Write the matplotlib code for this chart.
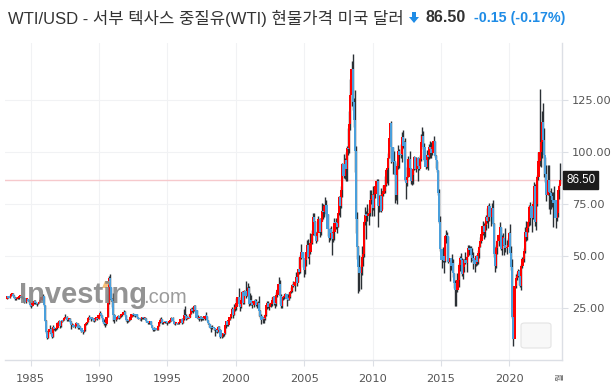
import matplotlib
matplotlib.use("Agg")
import matplotlib.pyplot as plt
import numpy as np
from matplotlib.patches import FancyBboxPatch, Polygon

# monthly WTI candles, first month = Apr 1983
start_year = 1983
start_month = 4

close = [
    30.6, 30.0, 31.0, 31.7, 31.9, 30.9, 30.0, 29.4, 29.6,
    29.7, 30.6, 30.8, 30.5, 30.2, 29.6, 27.9, 29.3, 29.3, 28.6, 27.9, 26.4,
    25.9, 27.3, 28.3, 27.5, 27.4, 26.9, 27.3, 28.0, 29.1, 30.4, 30.6, 26.3,
    18.8, 13.3, 10.4, 13.3, 15.1, 12.8, 11.2, 15.9, 14.8, 14.9, 15.2, 17.9,
    18.7, 16.2, 18.8, 18.7, 19.4, 20.3, 20.7, 19.2, 19.5, 19.9, 18.1, 16.7,
    16.9, 16.0, 16.4, 17.6, 17.5, 15.2, 16.2, 15.2, 14.0, 13.7, 14.2, 17.2,
    18.0, 18.1, 20.4, 20.7, 19.6, 20.1, 19.2, 19.0, 20.2, 20.4, 19.9, 21.8,
    22.7, 21.5, 20.3, 18.2, 17.4, 17.1, 20.7, 27.2, 39.5, 35.2, 29.5, 28.4,
    21.5, 19.2, 19.6, 20.8, 21.2, 20.2, 21.4, 21.7, 22.2, 23.3, 21.5, 19.1,
    18.9, 18.7, 19.4, 20.9, 22.1, 21.6, 21.9, 21.4, 21.9, 20.6, 19.9, 19.5,
    20.3, 20.4, 20.3, 20.3, 19.9, 18.6, 17.7, 18.2, 18.7, 16.9, 15.4, 14.2,
    15.2, 14.5, 14.6, 16.5, 18.1, 19.1, 19.7, 17.6, 18.4, 18.2, 18.1, 17.8,
    18.4, 18.5, 19.2, 20.4, 18.9, 17.4, 17.6, 17.8, 17.5, 17.6, 18.2, 19.6,
    17.7, 19.5, 21.5, 21.2, 19.8, 20.9, 20.4, 22.3, 24.4, 23.4, 23.8, 25.9,
    24.2, 20.3, 20.4, 19.8, 20.9, 19.8, 20.2, 19.6, 21.2, 21.1, 19.1, 17.6,
    17.2, 15.4, 15.6, 15.4, 15.2, 14.2, 14.2, 13.4, 16.1, 14.4, 11.2, 12.1,
    12.8, 12.3, 16.8, 18.7, 16.8, 19.3, 20.5, 22.1, 24.5, 21.8, 24.6, 25.6,
    27.6, 30.4, 26.9, 25.7, 29.0, 32.5, 27.4, 33.1, 30.8, 32.7, 34.4, 26.8,
    28.7, 27.4, 26.3, 28.5, 28.4, 26.3, 26.4, 27.2, 23.4, 21.2, 19.4, 19.8,
    19.5, 21.7, 26.3, 27.3, 25.3, 26.9, 27.0, 28.9, 30.5, 27.2, 26.9, 31.2,
    33.5, 36.6, 31.0, 25.8, 29.6, 30.2, 30.5, 31.6, 29.2, 29.1, 30.4, 32.5,
    33.1, 36.2, 35.8, 37.4, 39.9, 37.1, 43.8, 42.1, 49.6, 51.8, 49.1, 43.5,
    48.2, 51.8, 55.4, 49.7, 52.0, 56.5, 60.6, 68.9, 66.2, 59.8, 57.3, 61.0,
    67.9, 61.4, 66.6, 71.9, 71.3, 73.9, 74.4, 70.3, 62.9, 58.7, 63.1, 61.1,
    58.1, 61.8, 65.9, 65.7, 64.0, 70.7, 78.2, 74.0, 81.7, 94.5, 88.7, 96.0,
    91.8, 101.8, 101.6, 113.5, 127.4, 140.0, 124.1, 115.5, 100.6, 67.8, 54.4, 44.6,
    41.7, 44.8, 49.7, 51.1, 66.3, 69.9, 69.5, 70.0, 70.6, 77.0, 77.3, 79.4,
    72.9, 79.7, 83.8, 86.2, 74.0, 75.6, 78.9, 71.9, 80.0, 81.4, 84.1, 91.4,
    92.2, 97.0, 106.7, 113.9, 102.7, 95.4, 95.7, 88.8, 79.2, 93.2, 100.4, 98.8,
    98.5, 107.1, 103.0, 104.9, 86.5, 85.0, 88.1, 96.5, 92.2, 86.2, 88.9, 91.8,
    97.5, 92.1, 97.2, 93.5, 92.0, 96.6, 105.0, 107.7, 102.3, 96.4, 92.7, 98.4,
    97.5, 102.6, 101.6, 99.7, 102.7, 105.4, 98.2, 96.0, 91.2, 80.5, 66.2, 53.3,
    48.2, 49.8, 47.6, 59.6, 60.3, 59.5, 47.1, 49.2, 45.1, 46.6, 41.7, 37.0,
    33.6, 33.8, 38.3, 45.9, 49.1, 48.3, 41.6, 44.7, 48.2, 46.9, 49.4, 53.7,
    52.8, 54.0, 50.6, 49.3, 48.3, 46.0, 50.2, 47.2, 51.7, 54.4, 57.4, 60.4,
    64.7, 61.6, 64.9, 68.6, 67.0, 74.2, 68.8, 69.8, 73.3, 65.3, 50.9, 45.4,
    53.8, 57.2, 60.1, 63.9, 53.5, 58.5, 58.6, 55.1, 54.1, 54.2, 55.2, 61.1,
    51.6, 44.8, 20.5, 10.0, 35.5, 39.3, 40.3, 42.6, 40.2, 35.8, 45.3, 48.5,
    52.2, 61.5, 59.2, 63.6, 66.3, 73.5, 74.0, 68.5, 75.0, 83.6, 66.2, 75.2,
    88.2, 95.7, 100.3, 104.7, 114.7, 105.8, 98.6, 89.6, 79.5, 86.5, 80.6, 80.3,
    78.9, 77.1, 75.7, 76.8, 68.1, 70.6, 81.8, 83.6, 86.5,
]

high = [
    31.0, 30.8, 31.4, 32.0, 32.4, 32.0, 31.1, 30.2, 30.1,
    30.4, 30.9, 31.3, 31.0, 30.7, 30.5, 29.7, 29.6, 29.8, 29.5, 28.9, 28.0,
    26.8, 27.5, 28.9, 28.8, 28.0, 27.6, 27.6, 28.3, 29.6, 30.8, 31.8, 31.0,
    26.5, 19.3, 14.0, 14.6, 16.8, 15.3, 13.5, 16.8, 16.0, 15.4, 15.6, 18.2,
    19.2, 18.7, 18.9, 19.0, 19.8, 20.5, 22.2, 21.0, 19.8, 20.3, 20.0, 18.7,
    17.7, 17.3, 16.7, 18.4, 17.9, 17.6, 16.8, 16.3, 15.4, 14.6, 14.6, 17.4,
    18.5, 18.5, 20.5, 21.8, 20.6, 20.6, 20.2, 19.5, 20.4, 20.9, 20.6, 22.1,
    23.8, 22.8, 21.6, 20.4, 19.5, 17.6, 20.9, 31.9, 40.4, 41.2, 35.1, 29.8,
    32.0, 22.0, 20.5, 21.3, 21.5, 21.3, 21.7, 22.1, 22.4, 24.0, 23.5, 21.5,
    19.6, 19.4, 19.6, 21.0, 22.2, 22.6, 22.2, 22.0, 22.3, 22.2, 20.8, 19.9,
    20.5, 20.9, 20.8, 20.7, 20.6, 20.0, 18.7, 18.5, 18.9, 18.9, 16.9, 15.5,
    15.8, 15.5, 14.9, 17.0, 18.3, 20.0, 20.7, 19.7, 18.5, 18.7, 18.7, 18.1,
    18.7, 18.9, 19.3, 20.5, 20.6, 19.0, 17.9, 18.4, 17.9, 17.7, 18.3, 19.7,
    20.0, 19.8, 24.4, 25.8, 21.9, 21.0, 22.0, 22.4, 25.0, 25.5, 24.5, 26.3,
    26.6, 24.1, 21.6, 20.6, 21.3, 21.0, 20.8, 20.4, 21.3, 23.0, 21.2, 19.2,
    17.9, 17.4, 16.5, 16.8, 15.6, 15.3, 15.0, 14.0, 16.5, 16.2, 14.7, 12.3,
    12.8, 13.0, 16.9, 18.8, 19.0, 19.4, 20.8, 22.3, 25.6, 24.1, 26.9, 26.8,
    30.0, 30.5, 34.4, 27.5, 30.3, 33.0, 32.2, 33.6, 37.8, 35.0, 36.9, 35.5,
    32.2, 31.5, 28.2, 28.7, 29.3, 29.5, 27.8, 28.3, 31.0, 23.9, 22.2, 20.9,
    21.6, 22.0, 26.5, 28.5, 28.5, 27.3, 28.1, 30.3, 30.9, 30.7, 28.6, 32.7,
    34.0, 39.9, 38.5, 31.6, 29.7, 30.9, 31.8, 32.4, 29.8, 31.7, 32.5, 33.0,
    35.3, 36.4, 38.2, 37.9, 42.3, 40.4, 43.8, 49.4, 50.5, 55.7, 51.8, 45.1,
    49.0, 51.8, 57.6, 58.3, 52.2, 60.9, 62.5, 70.9, 70.8, 67.0, 61.8, 61.9,
    69.2, 68.3, 67.0, 75.4, 74.9, 74.2, 78.4, 77.2, 70.4, 62.9, 63.3, 64.3,
    61.1, 62.3, 68.1, 68.1, 66.6, 70.7, 78.8, 78.8, 83.8, 94.7, 99.3, 97.0,
    100.1, 103.0, 111.8, 119.9, 135.1, 143.7, 147.3, 126.0, 130.0, 103.0, 71.0, 55.0,
    50.5, 45.8, 54.7, 53.9, 66.7, 73.4, 71.6, 75.0, 72.9, 82.0, 82.0, 80.0,
    83.9, 80.4, 83.8, 87.2, 87.2, 79.4, 79.4, 82.9, 80.1, 84.4, 88.6, 91.9,
    92.6, 99.8, 106.9, 114.0, 114.8, 102.6, 100.6, 95.9, 90.5, 94.6, 103.4, 101.6,
    103.7, 109.8, 110.6, 105.2, 106.6, 86.0, 92.9, 98.3, 100.4, 92.3, 90.3, 91.9,
    98.2, 97.8, 97.5, 97.8, 97.0, 98.4, 108.9, 112.2, 110.2, 104.3, 95.3, 100.8,
    98.7, 103.9, 105.2, 104.7, 104.5, 107.7, 105.4, 98.4, 95.9, 91.6, 82.1, 69.3,
    53.5, 54.2, 52.5, 59.9, 62.6, 61.8, 59.6, 49.3, 48.8, 50.9, 48.4, 42.0,
    38.4, 34.6, 41.9, 46.8, 49.8, 51.7, 49.0, 48.8, 48.4, 51.9, 49.9, 55.2,
    55.2, 54.9, 54.8, 53.8, 52.0, 48.3, 50.4, 50.2, 52.9, 55.2, 59.1, 60.5,
    66.7, 66.0, 66.6, 69.6, 72.9, 74.5, 75.3, 70.4, 75.3, 76.9, 65.7, 54.6,
    55.4, 57.8, 60.7, 66.6, 63.9, 60.0, 60.9, 57.5, 63.4, 57.9, 58.7, 61.8,
    65.6, 54.7, 48.7, 29.1, 35.7, 41.6, 42.5, 43.8, 43.4, 41.9, 46.3, 49.4,
    53.9, 63.8, 67.0, 65.5, 67.0, 74.5, 76.0, 73.6, 76.7, 85.4, 84.7, 77.0,
    88.8, 100.0, 130.5, 108.8, 119.9, 123.7, 111.5, 97.7, 93.7, 93.6, 93.7, 81.5,
    82.7, 80.6, 81.0, 83.5, 77.0, 72.7, 81.8, 84.9, 95.0,
]

low = [
    29.3, 29.6, 29.8, 30.7, 31.3, 30.6, 29.8, 29.1, 29.0,
    29.2, 29.5, 30.4, 30.2, 29.9, 29.3, 27.4, 27.6, 28.9, 28.2, 27.6, 26.0,
    25.0, 25.8, 27.0, 27.1, 26.8, 26.2, 26.7, 27.2, 27.9, 29.0, 29.9, 26.0,
    18.6, 13.0, 10.0, 10.4, 13.2, 12.0, 10.4, 11.3, 14.3, 14.0, 14.5, 15.0,
    17.8, 15.6, 16.1, 18.1, 18.6, 19.3, 20.1, 18.7, 18.9, 19.2, 18.0, 15.1,
    16.3, 15.9, 15.4, 16.4, 17.1, 14.9, 15.0, 14.8, 13.6, 12.6, 13.4, 14.1,
    17.0, 17.4, 18.2, 19.9, 19.0, 19.5, 19.0, 18.2, 19.0, 19.7, 19.4, 19.8,
    21.6, 21.2, 19.6, 17.9, 16.8, 16.1, 16.7, 20.7, 27.1, 29.3, 28.5, 25.7,
    19.0, 17.8, 18.9, 19.5, 20.4, 19.9, 20.1, 20.8, 21.3, 22.1, 21.2, 18.9,
    17.9, 18.4, 18.6, 19.3, 20.8, 21.4, 21.4, 20.9, 21.3, 20.4, 19.8, 19.1,
    18.9, 19.8, 19.8, 19.9, 19.6, 18.5, 17.3, 17.4, 17.5, 16.8, 15.2, 13.8,
    14.0, 14.4, 14.2, 14.5, 16.5, 17.6, 19.1, 17.4, 17.3, 17.6, 17.7, 16.7,
    17.6, 18.0, 18.1, 19.0, 18.7, 17.1, 17.0, 17.6, 17.1, 17.2, 17.4, 18.3,
    17.3, 17.6, 19.1, 20.5, 19.3, 19.8, 20.1, 20.6, 22.0, 22.9, 22.5, 23.6,
    24.0, 20.1, 19.6, 18.6, 19.8, 18.7, 19.1, 19.3, 19.3, 20.4, 18.9, 17.3,
    16.1, 15.3, 13.5, 15.1, 14.4, 11.4, 13.7, 12.9, 13.5, 14.1, 10.7, 10.4,
    11.3, 11.4, 12.4, 15.6, 16.2, 16.5, 19.1, 20.1, 22.1, 20.1, 21.7, 23.8,
    24.1, 27.4, 25.9, 23.7, 25.1, 28.0, 26.9, 27.0, 29.7, 30.6, 32.3, 25.9,
    26.4, 26.6, 25.0, 25.5, 27.1, 26.0, 24.9, 26.0, 21.2, 20.3, 17.5, 17.8,
    17.9, 19.2, 21.2, 24.6, 24.9, 24.2, 25.6, 25.9, 28.2, 26.5, 24.9, 26.0,
    30.5, 32.6, 26.9, 24.9, 25.1, 29.0, 29.5, 30.2, 25.8, 28.9, 29.0, 29.8,
    32.2, 32.5, 35.3, 33.2, 37.3, 35.5, 37.6, 41.6, 41.9, 48.5, 44.7, 40.0,
    41.3, 45.2, 51.8, 49.2, 46.2, 51.1, 56.0, 59.9, 62.6, 59.5, 56.2, 57.1,
    61.6, 59.3, 60.0, 66.7, 67.6, 68.6, 72.2, 69.8, 59.5, 56.6, 57.8, 60.0,
    50.5, 56.8, 57.9, 62.8, 61.1, 64.2, 69.9, 69.0, 73.2, 78.3, 87.6, 86.9,
    86.1, 86.1, 98.7, 99.6, 110.7, 122.0, 120.4, 112.0, 90.5, 61.3, 48.8, 32.4,
    33.2, 34.0, 40.7, 45.1, 49.6, 65.0, 58.3, 66.7, 65.1, 69.1, 75.2, 69.5,
    72.4, 69.5, 78.1, 80.6, 64.2, 71.2, 71.6, 71.2, 72.6, 79.0, 80.3, 83.8,
    85.1, 84.1, 97.2, 104.7, 94.6, 89.7, 94.0, 75.7, 77.1, 74.9, 91.9, 92.5,
    97.3, 95.4, 102.1, 101.4, 86.0, 77.3, 83.7, 87.8, 90.9, 84.6, 84.1, 84.6,
    91.4, 92.0, 90.5, 86.1, 91.3, 92.3, 95.7, 103.1, 101.5, 95.7, 91.8, 92.6,
    91.2, 96.9, 97.4, 97.4, 98.6, 101.0, 97.5, 92.5, 90.4, 79.4, 65.7, 52.4,
    44.2, 47.1, 42.0, 47.0, 56.5, 57.3, 46.7, 37.8, 43.2, 43.0, 39.9, 34.5,
    26.1, 26.1, 32.7, 35.2, 43.0, 45.8, 40.6, 39.2, 42.5, 46.3, 42.2, 49.9,
    50.7, 51.2, 47.1, 48.2, 43.8, 42.1, 45.4, 45.6, 46.0, 49.1, 54.4, 56.1,
    59.9, 58.1, 59.1, 62.3, 65.8, 63.6, 67.0, 64.4, 67.6, 65.3, 49.4, 42.4,
    44.4, 51.2, 55.0, 60.0, 53.0, 50.6, 55.2, 50.5, 52.1, 50.9, 54.7, 55.1,
    51.3, 43.3, 20.0, 6.5, 16.4, 34.7, 38.7, 40.0, 36.1, 34.9, 33.6, 44.1,
    47.3, 51.6, 57.3, 57.6, 61.6, 64.6, 65.0, 61.7, 67.6, 74.0, 64.4, 62.4,
    74.3, 86.6, 93.5, 92.9, 97.2, 101.5, 88.2, 85.7, 76.3, 79.3, 72.5, 70.1,
    72.5, 73.8, 64.1, 74.0, 63.6, 66.8, 69.0, 77.6, 84.9,
]

first_open = 29.3
last_price = 86.50
year_ticks = [1985, 1990, 1995, 2000, 2005, 2010, 2015, 2020]
price_ticks = [25, 50, 75, 100, 125]

close = np.array(close)
high = np.array(high)
low = np.array(low)
opn = np.concatenate([[first_open], close[:-1]])
n = len(close)
t = start_year + (start_month - 1 + np.arange(n)) / 12 + 1 / 24

W, H = 611, 389
fig = plt.figure(figsize=(W / 100, H / 100), dpi=100)
ax = fig.add_axes([5 / W, 1 - 360 / H, 557 / W, 317 / H])

up = close >= opn
red = '#ff0000'
blue = '#4a9fdb'

# wicks
ax.vlines(t, low, high, color='#2b3035', linewidth=1.0, zorder=3)
# bodies
bottom = np.minimum(opn, close)
height = np.maximum(np.abs(close - opn), 0.5)
ax.bar(t[up], height[up], bottom=bottom[up], width=0.16, color=red, linewidth=0, zorder=4)
ax.bar(t[~up], height[~up], bottom=bottom[~up], width=0.16, color=blue, linewidth=0, zorder=4)

ax.axhline(last_price, color='#f6c9cc', linewidth=1.0, zorder=2)

ax.set_xlim(1983.12, 2023.85)
ax.set_ylim(0, 152.5)

ax.set_xticks(year_ticks)
ax.set_xticklabels([str(y) for y in year_ticks])
ax.set_yticks(price_ticks)
ax.set_yticklabels(['%.2f' % v for v in price_ticks])
ax.yaxis.tick_right()
ax.grid(True, color='#f1f2f4', linewidth=0.8, zorder=0)
ax.set_axisbelow(True)
ax.tick_params(axis='both', colors='#dcdfe5', labelcolor='#555555', labelsize=8.2,
               length=4, width=0.8, pad=3)
ax.tick_params(axis='x', pad=6)
for s in ['top', 'left']:
    ax.spines[s].set_visible(False)
for s in ['bottom', 'right']:
    ax.spines[s].set_color('#dcdfe5')
    ax.spines[s].set_linewidth(1.0)

# current price box
ax.annotate('%.2f' % last_price, xy=(1.0, last_price), xycoords=('axes fraction', 'data'),
            xytext=(3, 0), textcoords='offset points', ha='left', va='center',
            fontsize=8.4, color='white', family='Liberation Sans',
            bbox=dict(boxstyle='square,pad=0.25', fc='#1c1c1c', ec='#1c1c1c'),
            annotation_clip=False, zorder=10)

# last tick label at the right end
fig.text(560 / W, 1 - 377 / H, '월', rotation=90, fontsize=6, color='#555555',
         ha='center', va='center', family='Noto Sans CJK KR')

# watermark
fig.text(19 / W, 1 - 303 / H, 'Investing', fontsize=21, fontweight='bold', color='#808080',
         alpha=0.85, family='Liberation Sans', ha='left', va='baseline', zorder=1)
fig.text(143 / W, 1 - 303 / H, '.com', fontsize=14.5, color='#8a8a8a', alpha=0.85,
         family='Liberation Sans', ha='left', va='baseline', zorder=1)
fig.patches.append(Polygon([[102 / W, 1 - 288 / H], [105 / W, 1 - 281 / H],
                            [110 / W, 1 - 281 / H], [107 / W, 1 - 288 / H]],
                           closed=True, transform=fig.transFigure, fc='#f5c07a', ec='none'))

# empty rounded box bottom right
ax.add_patch(FancyBboxPatch((521 / W, 1 - 348 / H), 30 / W, 25 / H,
                            boxstyle='round,pad=0,rounding_size=0.006',
                            transform=fig.transFigure, fc='#f8f8f8', ec='#e4e4e4',
                            linewidth=0.8, zorder=6))

# header
hy = 1 - 18 / H
fig.text(8 / W, hy, 'WTI/USD - 서부 텍사스 중질유(WTI) 현물가격 미국 달러',
         fontsize=12, color='#333333', family=['Liberation Sans', 'Noto Sans CJK KR'],
         ha='left', va='center')
fig.patches.append(Polygon([[412 / W, hy + 6 / H], [416 / W, hy + 6 / H],
                            [416 / W, hy + 1 / H], [419 / W, hy + 1 / H],
                            [414 / W, hy - 5 / H], [409 / W, hy + 1 / H],
                            [412 / W, hy + 1 / H]],
                           closed=True, transform=fig.transFigure, fc='#1f8ce6', ec='none'))
fig.text(426 / W, hy, '86.50', fontsize=11.5, fontweight='bold', color='#333333',
         family='Liberation Sans', ha='left', va='center')
fig.text(474 / W, hy, '-0.15 (-0.17%)', fontsize=10.3, fontweight='bold', color='#1f8ce6',
         family='Liberation Sans', ha='left', va='center')

fig.savefig('out.png', dpi=100)
